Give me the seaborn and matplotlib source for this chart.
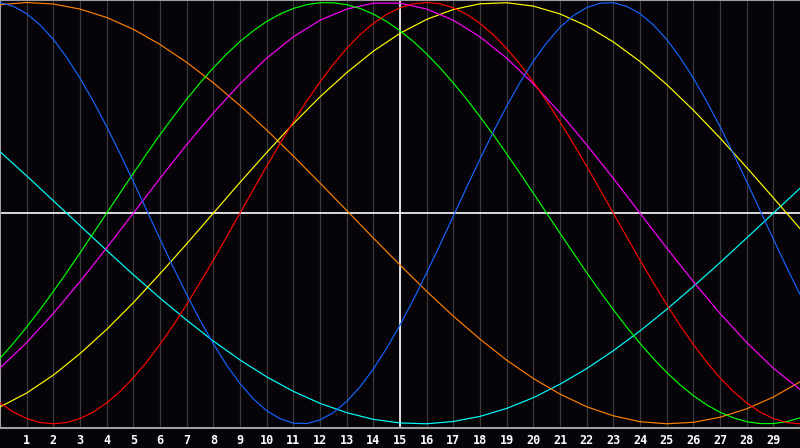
import numpy as np
import pandas as pd
import matplotlib
matplotlib.use("Agg")
import matplotlib.pyplot as plt
import seaborn as sns

days = list(range(0, 31))
half_days = [i / 2 for i in range(0, 61)]
tick_days = list(range(1, 30))
tick_labels = [str(d) for d in tick_days]

# sampled every half day
physical = [1.00, 0.982, 0.947, 0.894, 0.825, 0.740, 0.641, 0.531, 0.411, 0.283,
            0.150, 0.014, -0.123, -0.257, -0.386, -0.508, -0.620, -0.722, -0.809, -0.882,
            -0.938, -0.976, -0.997, -0.999, -0.982, -0.947, -0.894, -0.825, -0.740, -0.641,
            -0.531, -0.411, -0.283, -0.150, -0.014, 0.123, 0.257, 0.386, 0.508, 0.620,
            0.722, 0.809, 0.882, 0.938, 0.976, 0.997, 0.999, 0.982, 0.947, 0.894,
            0.825, 0.740, 0.641, 0.531, 0.411, 0.283, 0.150, 0.014, -0.123, -0.257, -0.386]
emotional = [-0.901, -0.944, -0.975, -0.994, -1.0, -0.994, -0.975, -0.944, -0.901, -0.847,
             -0.782, -0.707, -0.623, -0.532, -0.434, -0.330, -0.223, -0.112, 0.0, 0.112,
             0.223, 0.330, 0.434, 0.532, 0.623, 0.707, 0.782, 0.847, 0.901, 0.944,
             0.975, 0.994, 1.0, 0.994, 0.975, 0.944, 0.901, 0.847, 0.782, 0.707,
             0.623, 0.532, 0.434, 0.330, 0.223, 0.112, 0.0, -0.112, -0.223, -0.330,
             -0.434, -0.532, -0.623, -0.707, -0.782, -0.847, -0.901, -0.944, -0.975, -0.994, -1.0]
intellectual = [-0.690, -0.618, -0.541, -0.458, -0.372, -0.282, -0.189, -0.095, 0.0, 0.095,
                0.189, 0.282, 0.372, 0.458, 0.541, 0.618, 0.690, 0.756, 0.815, 0.866,
                0.910, 0.945, 0.972, 0.990, 0.999, 0.999, 0.990, 0.972, 0.945, 0.910,
                0.866, 0.815, 0.756, 0.690, 0.618, 0.541, 0.458, 0.372, 0.282, 0.189,
                0.095, 0.0, -0.095, -0.189, -0.282, -0.372, -0.458, -0.541, -0.618, -0.690,
                -0.756, -0.815, -0.866, -0.910, -0.945, -0.972, -0.990, -0.999, -0.999, -0.990, -0.972]
# sampled every day
intuitive = [-0.736, -0.614, -0.476, -0.325, -0.165, 0.0, 0.165, 0.325, 0.476, 0.614,
             0.736, 0.837, 0.916, 0.969, 0.997, 0.997, 0.969, 0.916, 0.837, 0.736,
             0.614, 0.476, 0.325, 0.165, 0.0, -0.165, -0.325, -0.476, -0.614, -0.736, -0.837]
aesthetic = [-0.920, -0.854, -0.769, -0.667, -0.552, -0.425, -0.288, -0.146, 0.0, 0.146,
             0.288, 0.425, 0.552, 0.667, 0.769, 0.854, 0.920, 0.967, 0.994, 0.999,
             0.983, 0.946, 0.889, 0.813, 0.720, 0.611, 0.489, 0.357, 0.217, 0.073, -0.073]
awareness = [0.990, 1.000, 0.993, 0.969, 0.929, 0.873, 0.801, 0.716, 0.619, 0.511,
             0.395, 0.271, 0.143, 0.013, -0.118, -0.246, -0.371, -0.489, -0.598, -0.698,
             -0.785, -0.859, -0.919, -0.962, -0.990, -1.000, -0.993, -0.969, -0.929, -0.873, -0.801]
spiritual = [0.292, 0.177, 0.059, -0.059, -0.177, -0.292, -0.403, -0.508, -0.607, -0.697,
             -0.777, -0.846, -0.903, -0.947, -0.979, -0.996, -1.000, -0.989, -0.965, -0.927,
             -0.876, -0.812, -0.738, -0.653, -0.559, -0.457, -0.348, -0.235, -0.118, 0.0, 0.118]

series = {
    "spiritual": (days, spiritual),
    "awareness": (days, awareness),
    "aesthetic": (days, aesthetic),
    "intuitive": (days, intuitive),
    "intellectual": (half_days, intellectual),
    "emotional": (half_days, emotional),
    "physical": (half_days, physical),
}
palette = {
    "physical": "#1464FF",
    "emotional": "#FF0000",
    "intellectual": "#00FF00",
    "intuitive": "#FF00FF",
    "aesthetic": "#FFFF00",
    "awareness": "#FF8000",
    "spiritual": "#00FFFF",
}

rows = []
for name, (xs, vals) in series.items():
    for d, v in zip(xs, vals):
        rows.append({"day": d, "value": v, "cycle": name})
df = pd.DataFrame(rows)

sns.set_style("dark")
plt.rcParams["font.family"] = ["DejaVu Sans Mono", "DejaVu Sans"]

bg = "#060409"
fig = plt.figure(figsize=(8, 4.48), dpi=100, facecolor=bg)
ax = fig.add_axes([0.0, 20 / 448, 1.0, 428 / 448])
ax.set_facecolor(bg)

for d in tick_days:
    ax.axvline(d, color="#3a3a3a", lw=0.9, zorder=1)

ax.axhline(0, color="white", lw=1.2, zorder=2)
ax.axvline(15, color="white", lw=1.2, zorder=2)

sns.lineplot(data=df, x="day", y="value", hue="cycle", palette=palette,
             hue_order=list(series.keys()), legend=False, lw=0.85, ax=ax, zorder=3)

ax.set_xlim(0, 30)
ax.set_ylim(-1.02, 1.012)
ax.set_xticks(tick_days)
ax.set_xticklabels(tick_labels, color="white", fontsize=8.5, fontweight="bold")
ax.set_yticks([])
ax.tick_params(axis="x", length=0, pad=4)
ax.set_xlabel("")
ax.set_ylabel("")
ax.grid(False)
for side in ["left", "top", "bottom"]:
    ax.spines[side].set_color("#a0a0a0")
    ax.spines[side].set_linewidth(1.5)
    ax.spines[side].set_visible(True)
ax.spines["right"].set_visible(False)

fig.savefig("out.png", dpi=100, facecolor=bg)
